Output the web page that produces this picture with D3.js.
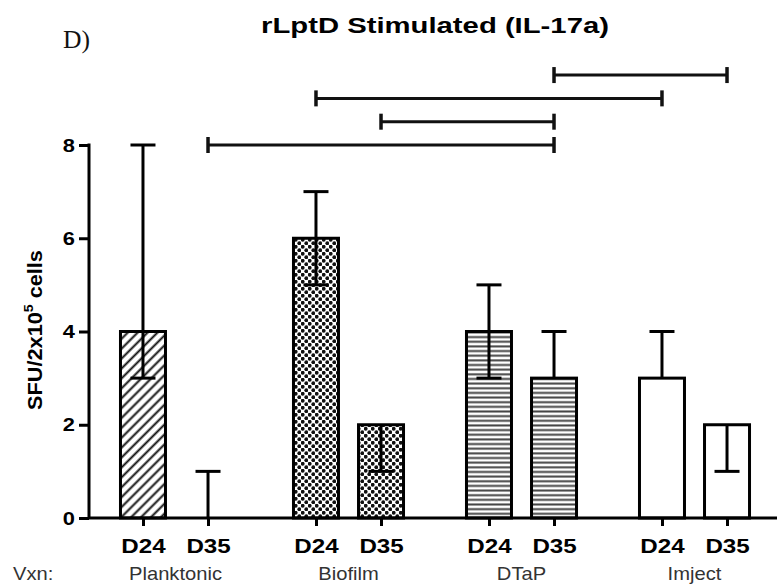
<!DOCTYPE html>
<html><head><meta charset="utf-8">
<script src="https://cdn.jsdelivr.net/npm/d3@7"></script>
<style>html,body{margin:0;padding:0;background:#fff;}svg{display:block;}</style>
</head><body>
<script>
// ---- data ----
const groups = ["Planktonic", "Biofilm", "DTaP", "Imject"];
const days = ["D24", "D35"];
const medianD24 = [4, 6, 4, 3];
const medianD35 = [0, 2, 3, 2];
const upperD24 = [8, 7, 5, 4];
const upperD35 = [1, 2, 4, 2];
const lowerD24 = [3, 5, 3, 3];
const lowerD35 = [0, 1, 3, 1];
const yTicks = [0, 2, 4, 6, 8];
// significance brackets: [group, day] -> [group, day] at level (y units)
const bracketFrom = [["Planktonic", "D35"], ["Biofilm", "D35"], ["Biofilm", "D24"], ["DTaP", "D35"]];
const bracketTo = [["DTaP", "D35"], ["DTaP", "D35"], ["Imject", "D24"], ["Imject", "D35"]];
const bracketLevel = [8, 8.5, 9, 9.5];
const titleText = "rLptD Stimulated (IL-17a)";
const panelLabel = "D)";
const rowLabel = "Vxn:";

const W = 777, H = 585;
const svg = d3.select("body").append("svg").attr("width", W).attr("height", H);
const font = "'Liberation Sans', Arial, sans-serif";

// patterns
const defs = svg.append("defs");
const pHatch = defs.append("pattern").attr("id", "hatch").attr("patternUnits", "userSpaceOnUse")
  .attr("width", 7).attr("height", 10).attr("patternTransform", "rotate(45)");
pHatch.append("rect").attr("width", 7).attr("height", 10).attr("fill", "#fff");
pHatch.append("line").attr("x1", 3.5).attr("x2", 3.5).attr("y1", 0).attr("y2", 10).attr("stroke", "#111").attr("stroke-width", 2);
const pCheck = defs.append("pattern").attr("id", "check").attr("patternUnits", "userSpaceOnUse")
  .attr("width", 7).attr("height", 7);
pCheck.append("rect").attr("width", 7).attr("height", 7).attr("fill", "#fff");
pCheck.append("circle").attr("cx", 1.75).attr("cy", 1.75).attr("r", 1.9).attr("fill", "#111");
pCheck.append("circle").attr("cx", 5.25).attr("cy", 5.25).attr("r", 1.9).attr("fill", "#111");
const pH = defs.append("pattern").attr("id", "hlines").attr("patternUnits", "userSpaceOnUse")
  .attr("width", 10).attr("height", 4.65);
pH.append("rect").attr("width", 10).attr("height", 4.65).attr("fill", "#fff");
pH.append("rect").attr("y", 1.3).attr("width", 10).attr("height", 2).attr("fill", "#444");
const fills = { "Planktonic": "url(#hatch)", "Biofilm": "url(#check)", "DTaP": "url(#hlines)", "Imject": "#fff" };

// scales
const x0 = d3.scaleBand().domain(groups).range([89, 781]).padding(0);
const x1 = d3.scalePoint().domain(days).range([0, x0.bandwidth()]).padding(0.83);
const xc = (g, d) => x0(g) + x1(d);
const y = d3.scaleLinear().domain([0, 8]).range([518, 145]);
const barW = 45;

const bars = [];
groups.forEach((g, i) => {
  bars.push({ g, d: "D24", v: medianD24[i], hi: upperD24[i], lo: lowerD24[i] });
  bars.push({ g, d: "D35", v: medianD35[i], hi: upperD35[i], lo: lowerD35[i] });
});

function fit(sel, target) {
  const len = sel.node().getComputedTextLength();
  return target / len;
}

// bars
svg.append("g").selectAll("rect").data(bars.filter(b => b.v > 0)).join("rect")
  .attr("x", b => xc(b.g, b.d) - barW / 2).attr("width", barW)
  .attr("y", b => y(b.v)).attr("height", b => y(0) - y(b.v))
  .attr("fill", b => fills[b.g]).attr("stroke", "#000").attr("stroke-width", 3);

// error bars
const eg = svg.append("g").attr("stroke", "#000").attr("stroke-width", 3);
bars.forEach(b => {
  const cx = xc(b.g, b.d);
  if (b.hi !== b.lo) eg.append("line").attr("x1", cx).attr("x2", cx).attr("y1", y(b.hi)).attr("y2", y(b.lo));
  if (b.hi > b.v) eg.append("line").attr("x1", cx - 12.5).attr("x2", cx + 12.5).attr("y1", y(b.hi)).attr("y2", y(b.hi));
  if (b.lo < b.v) eg.append("line").attr("x1", cx - 12.5).attr("x2", cx + 12.5).attr("y1", y(b.lo)).attr("y2", y(b.lo));
});

// y axis
const yAx = svg.append("g").attr("transform", "translate(89,0)")
  .call(d3.axisLeft(y).tickValues(yTicks).tickSize(10).tickPadding(4).tickFormat(d3.format("d")));
yAx.select(".domain").remove();
yAx.append("line").attr("x1", 0).attr("x2", 0).attr("y1", y(8) - 1.5).attr("y2", y(0)).attr("stroke", "#000").attr("stroke-width", 3);
yAx.selectAll(".tick line").attr("stroke-width", 3);
yAx.selectAll(".tick text").attr("font-family", font).attr("font-weight", "bold").attr("font-size", 19)
  .attr("fill", "#000").attr("x", 0).attr("transform", "translate(-14,0) scale(1.15,1)");

// x axis
const keys = bars.map(b => b.g + "|" + b.d);
const xk = d3.scaleOrdinal().domain(keys).range(bars.map(b => xc(b.g, b.d)));
const xAx = svg.append("g").attr("transform", "translate(0,518)")
  .call(d3.axisBottom(xk).tickSize(8).tickPadding(12).tickFormat(k => k.split("|")[1]));
xAx.select(".domain").remove();
xAx.append("line").attr("x1", 89).attr("x2", 777).attr("y1", 0).attr("y2", 0).attr("stroke", "#000").attr("stroke-width", 3);
xAx.selectAll(".tick line").attr("stroke-width", 3);
xAx.selectAll(".tick text").attr("font-family", font).attr("font-weight", "bold").attr("font-size", 21)
  .attr("fill", "#000").attr("transform", "scale(1.15,1)");

// group labels
svg.append("g").selectAll("text").data(groups).join("text")
  .attr("transform", g => `translate(${x0(g) + x0.bandwidth() / 2},580) scale(1.12,1)`)
  .attr("text-anchor", "middle").attr("font-family", font).attr("font-size", 18).attr("fill", "#333")
  .text(g => g);
svg.append("text").attr("transform", "translate(13,580) scale(1.12,1)")
  .attr("font-family", font).attr("font-size", 18).attr("fill", "#333").text(rowLabel);

// brackets
const bg = svg.append("g").attr("stroke", "#111");
bracketFrom.forEach((f, i) => {
  const xa = xc(f[0], f[1]), xb = xc(bracketTo[i][0], bracketTo[i][1]), yy = y(bracketLevel[i]);
  bg.append("line").attr("x1", xa).attr("x2", xb).attr("y1", yy).attr("y2", yy).attr("stroke-width", 3);
  [xa, xb].forEach(xe => bg.append("line").attr("x1", xe).attr("x2", xe).attr("y1", yy - 8).attr("y2", yy + 8).attr("stroke-width", 3.5));
});

// y label
const yl = svg.append("text").attr("font-family", font).attr("font-weight", "bold").attr("font-size", 20)
  .attr("text-anchor", "middle").attr("fill", "#000");
yl.append("tspan").text("SFU/2x10");
yl.append("tspan").attr("font-size", 13).attr("dy", -9).text("5");
yl.append("tspan").attr("dy", 9).text(" cells");
const sy = fit(yl, 160);
yl.attr("transform", `translate(42,330) rotate(-90) scale(${sy},1)`);

// title
const tt = svg.append("text").attr("font-family", font).attr("font-weight", "bold").attr("font-size", 22.5)
  .attr("text-anchor", "middle").attr("fill", "#000").text(titleText);
const st = fit(tt, 348);
tt.attr("transform", `translate(435,33) scale(${st},1)`);

// panel label
const pl = svg.append("text").attr("font-family", "'Liberation Serif', 'Times New Roman', serif").attr("font-size", 25)
  .attr("fill", "#111").text(panelLabel);
const sp = fit(pl, 27);
pl.attr("transform", `translate(63,48) scale(${sp},1)`);
</script>
</body></html>
